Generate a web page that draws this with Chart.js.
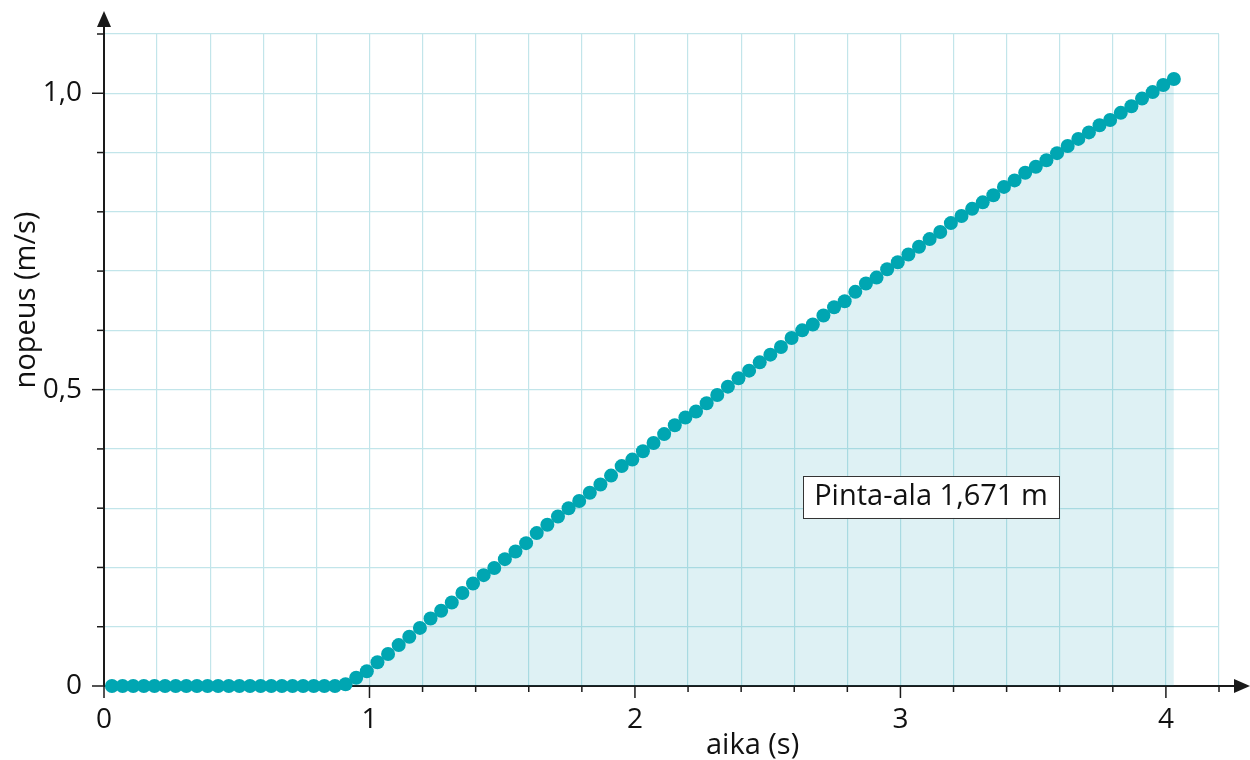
<!DOCTYPE html>
<html>
<head>
<meta charset="utf-8">
<script src="https://cdn.jsdelivr.net/npm/chart.js@4.4.0/dist/chart.umd.min.js"></script>
<style>
  html, body { margin: 0; padding: 0; background: #fff; }
</style>
</head>
<body>
<canvas id="speed-chart" width="1250" height="760"></canvas>
<script>
// measured samples (s, m/s)
const times = [
  0.03, 0.07, 0.11, 0.15, 0.19, 0.23, 0.27, 0.31, 0.35, 0.39,
  0.43, 0.47, 0.51, 0.55, 0.59, 0.63, 0.67, 0.71, 0.75, 0.79,
  0.83, 0.87, 0.91, 0.95, 0.99, 1.03, 1.07, 1.11, 1.15, 1.19,
  1.23, 1.27, 1.31, 1.35, 1.39, 1.43, 1.47, 1.51, 1.55, 1.59,
  1.63, 1.67, 1.71, 1.75, 1.79, 1.83, 1.87, 1.91, 1.95, 1.99,
  2.03, 2.07, 2.11, 2.15, 2.19, 2.23, 2.27, 2.31, 2.35, 2.39,
  2.43, 2.47, 2.51, 2.55, 2.59, 2.63, 2.67, 2.71, 2.75, 2.79,
  2.83, 2.87, 2.91, 2.95, 2.99, 3.03, 3.07, 3.11, 3.15, 3.19,
  3.23, 3.27, 3.31, 3.35, 3.39, 3.43, 3.47, 3.51, 3.55, 3.59,
  3.63, 3.67, 3.71, 3.75, 3.79, 3.83, 3.87, 3.91, 3.95, 3.99,
  4.03
];
const speeds = [
  0, 0, 0, 0, 0, 0, 0, 0, 0, 0,
  0, 0, 0, 0, 0, 0, 0, 0, 0, 0,
  0, 0, 0.003, 0.014, 0.025, 0.040, 0.054, 0.069, 0.083, 0.098,
  0.114, 0.127, 0.141, 0.157, 0.173, 0.187, 0.199, 0.214, 0.227, 0.241,
  0.258, 0.272, 0.286, 0.300, 0.312, 0.326, 0.340, 0.355, 0.371, 0.382,
  0.396, 0.410, 0.425, 0.440, 0.453, 0.463, 0.477, 0.491, 0.505, 0.519,
  0.532, 0.546, 0.559, 0.572, 0.587, 0.600, 0.610, 0.625, 0.639, 0.649,
  0.665, 0.679, 0.689, 0.703, 0.715, 0.728, 0.741, 0.754, 0.766, 0.781,
  0.793, 0.805, 0.816, 0.828, 0.842, 0.853, 0.866, 0.876, 0.887, 0.899,
  0.911, 0.923, 0.934, 0.946, 0.955, 0.967, 0.978, 0.991, 1.002, 1.014,
  1.024
];
const xTickValues = [0, 1, 2, 3, 4];
const xTickLabels = ['0', '1', '2', '3', '4'];
const yTickValues = [0, 0.5, 1.0];
const yTickLabels = ['0', '0,5', '1,0'];
const xTitle = 'aika (s)';
const yTitle = 'nopeus (m/s)';
const areaLabel = 'Pinta-ala 1,671 m';

const FONT = "'Open Sans', 'Noto Sans', sans-serif";
const TEAL = 'rgb(0, 166, 178)';
const GRID = 'rgb(194, 229, 234)';

function labelFor(values, labels, v) {
  const i = values.findIndex(t => Math.abs(t - v) < 1e-6);
  return i >= 0 ? labels[i] : '';
}

// axes with arrows, tick marks, titles and the area label
const axesPlugin = {
  id: 'axesPlugin',
  beforeDatasetsDraw(chart) {
    const { ctx, chartArea: a, scales: { x, y } } = chart;
    ctx.save();
    ctx.strokeStyle = '#1a1a1a';
    ctx.fillStyle = '#1a1a1a';
    ctx.lineWidth = 2;
    // x axis
    ctx.beginPath();
    ctx.moveTo(a.left, a.bottom);
    ctx.lineTo(1238, a.bottom);
    ctx.stroke();
    ctx.beginPath();
    ctx.moveTo(1250, a.bottom);
    ctx.lineTo(1234, a.bottom - 7);
    ctx.lineTo(1234, a.bottom + 7);
    ctx.closePath();
    ctx.fill();
    // y axis
    ctx.beginPath();
    ctx.moveTo(a.left, a.bottom);
    ctx.lineTo(a.left, 24);
    ctx.stroke();
    ctx.beginPath();
    ctx.moveTo(a.left, 11);
    ctx.lineTo(a.left - 7, 27);
    ctx.lineTo(a.left + 7, 27);
    ctx.closePath();
    ctx.fill();
    // tick marks
    ctx.lineWidth = 1.5;
    x.ticks.forEach(t => {
      const px = x.getPixelForValue(t.value);
      const major = labelFor(xTickValues, xTickLabels, t.value) !== '';
      ctx.beginPath();
      ctx.moveTo(px, a.bottom);
      ctx.lineTo(px, a.bottom + (major ? 12 : 6));
      ctx.stroke();
    });
    y.ticks.forEach(t => {
      const py = y.getPixelForValue(t.value);
      const major = labelFor(yTickValues, yTickLabels, t.value) !== '';
      ctx.beginPath();
      ctx.moveTo(a.left, py);
      ctx.lineTo(a.left - (major ? 12 : 7), py);
      ctx.stroke();
    });
    ctx.restore();
  },
  afterDatasetsDraw(chart) {
    const { ctx, scales: { x, y } } = chart;
    ctx.save();
    ctx.font = '29px ' + FONT;
    ctx.fillStyle = '#111';
    ctx.textBaseline = 'alphabetic';
    ctx.textAlign = 'left';
    // titles
    ctx.fillText(xTitle, 706, 754);
    ctx.textAlign = 'center';
    ctx.textBaseline = 'middle';
    ctx.translate(27, 300);
    ctx.rotate(-Math.PI / 2);
    ctx.fillText(yTitle, 0, 0);
    ctx.restore();

    // area label box
    ctx.save();
    ctx.font = '29px ' + FONT;
    const cx = x.getPixelForValue(3.115);
    const cy = y.getPixelForValue(0.319);
    const w = ctx.measureText(areaLabel).width + 22;
    const h = 42;
    ctx.fillStyle = '#fff';
    ctx.fillRect(cx - w / 2, cy - h / 2, w, h);
    ctx.strokeStyle = '#333';
    ctx.lineWidth = 1;
    ctx.strokeRect(Math.round(cx - w / 2) + 0.5, Math.round(cy - h / 2) + 0.5, Math.round(w), h);
    ctx.fillStyle = '#111';
    ctx.textAlign = 'center';
    ctx.textBaseline = 'middle';
    ctx.fillText(areaLabel, cx, cy);
    ctx.restore();
  }
};

const ctx = document.getElementById('speed-chart').getContext('2d');
new Chart(ctx, {
  type: 'line',
  data: {
    labels: times,
    datasets: [{
      data: times.map((t, i) => ({ x: t, y: speeds[i] })),
      borderWidth: 0,
      borderColor: 'rgba(0,0,0,0)',
      backgroundColor: 'rgba(0, 150, 170, 0.13)',
      fill: 'origin',
      tension: 0,
      pointRadius: 7,
      pointBorderWidth: 0,
      pointBackgroundColor: TEAL,
      clip: false
    }]
  },
  options: {
    responsive: false,
    animation: false,
    events: [],
    layout: { padding: { top: 34, right: 31, left: 0, bottom: 0 } },
    plugins: { legend: { display: false }, tooltip: { enabled: false } },
    scales: {
      x: {
        type: 'linear',
        min: 0,
        max: 4.2,
        afterFit(scale) {
          scale.height = 74;
          scale.paddingLeft = 0;
          scale.paddingRight = 0;
        },
        border: { display: false },
        grid: { color: GRID, lineWidth: 1.2, drawTicks: false },
        ticks: {
          stepSize: 0.2,
          autoSkip: false,
          maxRotation: 0,
          padding: 17,
          color: '#111',
          font: { size: 28, family: FONT },
          callback: v => labelFor(xTickValues, xTickLabels, v)
        }
      },
      y: {
        min: 0,
        max: 1.1,
        afterFit(scale) {
          scale.width = 104;
          scale.paddingTop = 0;
          scale.paddingBottom = 0;
        },
        border: { display: false },
        grid: { color: GRID, lineWidth: 1.2, drawTicks: false },
        ticks: {
          stepSize: 0.1,
          autoSkip: false,
          padding: 22,
          color: '#111',
          font: { size: 28, family: FONT },
          callback: v => labelFor(yTickValues, yTickLabels, v)
        }
      }
    }
  },
  plugins: [axesPlugin]
});
</script>
</body>
</html>
